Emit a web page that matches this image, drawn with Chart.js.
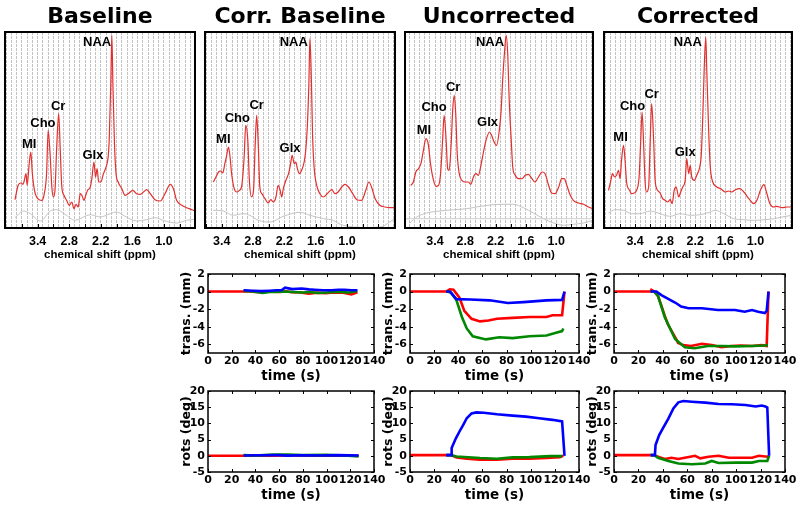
<!DOCTYPE html>
<html><head><meta charset="utf-8">
<script src="https://cdn.jsdelivr.net/npm/chart.js@4.4.1/dist/chart.umd.min.js"></script>
<style>
html,body{margin:0;padding:0;background:#fff;}
body{width:800px;height:510px;position:relative;overflow:hidden;}
canvas{position:absolute;}
</style></head><body>
<canvas id="s1"></canvas><canvas id="s2"></canvas><canvas id="s3"></canvas><canvas id="s4"></canvas>
<canvas id="m1"></canvas><canvas id="m2"></canvas><canvas id="m3"></canvas>
<canvas id="m4"></canvas><canvas id="m5"></canvas><canvas id="m6"></canvas>
<script>
// ================= DATA =================
const panelTitles = ['Baseline', 'Corr. Baseline', 'Uncorrected', 'Corrected'];
const ppmTickLabels = [3.4, 2.8, 2.2, 1.6, 1.0];
const ppmMinorTicks = [3.7, 3.4, 3.1, 2.8, 2.5, 2.2, 1.9, 1.6, 1.3, 1.0, 0.7, 0.4];
const peakNames = ['NAA', 'Cr', 'Cho', 'MI', 'Glx'];

// axis ranges (ppm, left -> right)
const ppmAxis1 = [4.02, 0.41];
const ppmAxis2 = [3.72, 0.08];
const ppmAxis3 = [3.995, 0.27];
const ppmAxis4 = [4.02, 0.27];

// Spectrum 1 : Baseline
const specPpm1 = [3.83,3.77,3.72,3.68,3.66,3.62,3.60,3.56,3.53,3.50,3.46,3.42,3.37,3.32,3.28,3.23,3.20,3.16,3.13,3.10,3.07,3.04,3.00,2.97,2.94,2.90,2.85,2.80,2.75,2.71,2.67,2.63,2.59,2.56,2.52,2.48,2.45,2.40,2.37,2.33,2.30,2.27,2.24,2.20,2.15,2.10,2.06,2.04,2.01,1.99,1.97,1.94,1.91,1.87,1.80,1.74,1.68,1.59,1.52,1.45,1.39,1.33,1.26,1.17,1.07,0.98,0.88,0.82,0.76,0.66,0.57,0.47,0.41];
const specAmp1 = [28.3,42.7,45,43.7,46,54.3,42.7,64.3,76,54.3,37.7,31,28.3,27.7,32.7,54.3,97.7,71,41,31,37.7,77.7,114.3,77.7,41,32.7,27.7,22.7,26,19.3,23.7,21,34.3,32.7,27.7,33.7,37.7,41,49.3,66,51,59.3,46,46,54.3,61,71,87.7,144.3,192.7,144.3,84.3,54.3,46,39.3,32.7,34.3,37.7,34.3,33.7,36,38.3,34.3,28.3,27,34.3,43.7,39.3,27.7,22.7,20.3,18.3,17];
const basePpm1 = [3.83,3.67,3.54,3.35,3.16,3.04,2.88,2.69,2.40,2.21,2.02,1.90,1.74,1.52,1.33,1.17,0.98,0.76,0.57,0.41];
const baseAmp1 = [10.3,17,14.3,7,17,18.3,13.7,7.7,13.3,11,14.3,16,11.7,7,8.3,10.3,7,5,7.7,8.7];
const peakPpm1 = [2.27, 3.01, 3.30, 3.56, 2.35];
const peakAmp1 = [186, 122, 105, 84, 73];

// Spectrum 2 : Corr. Baseline
const specPpm2 = [3.56,3.51,3.46,3.42,3.38,3.34,3.31,3.27,3.24,3.21,3.16,3.11,3.06,3.02,2.97,2.94,2.90,2.87,2.83,2.79,2.76,2.73,2.70,2.67,2.63,2.57,2.51,2.46,2.41,2.36,2.32,2.28,2.25,2.22,2.17,2.12,2.08,2.05,2.01,1.98,1.95,1.91,1.87,1.82,1.79,1.76,1.73,1.71,1.68,1.66,1.63,1.58,1.52,1.45,1.38,1.29,1.23,1.17,1.10,1.04,0.97,0.89,0.81,0.72,0.64,0.58,0.53,0.46,0.37,0.27,0.18,0.08];
const specAmp2 = [46,51,56,57,55,64.3,71,81,71,54.3,39.3,36,37.7,41,71,102.7,87.7,47.7,31,37.7,81,112.7,84.3,41,34.3,29.3,25,28.3,26,31,42.7,37.7,31,39.3,47.7,54.3,64.3,72.7,64.3,66,59.3,54.3,57.7,66,77.7,101,144.3,189.3,144.3,94.3,61,42.7,34.3,31,34.3,38.3,34.3,36,41,43.7,41,34.3,28.3,27.7,37.7,46,41,29.3,22.7,21,20.3,20.3];
const basePpm2 = [3.56,3.37,3.18,2.99,2.86,2.70,2.47,2.22,1.90,1.71,1.45,1.26,1.13,0.88,0.62,0.37,0.08];
const baseAmp2 = [17.7,17,12.7,14.3,12.7,7.7,6,11.7,15.7,12.7,9.3,7.7,3.7,1,0.5,1,9.3];
const peakPpm2 = [2.02, 2.73, 3.10, 3.37, 2.09];
const peakAmp2 = [186, 123, 110, 89, 80];

// Spectrum 3 : Uncorrected
const specPpm3 = [3.88,3.83,3.78,3.73,3.68,3.63,3.58,3.53,3.49,3.43,3.38,3.33,3.29,3.25,3.22,3.18,3.15,3.12,3.08,3.05,3.02,2.99,2.96,2.92,2.87,2.81,2.74,2.69,2.64,2.59,2.54,2.49,2.44,2.39,2.32,2.28,2.23,2.18,2.13,2.09,2.06,2.02,1.99,1.96,1.93,1.89,1.86,1.81,1.75,1.68,1.61,1.55,1.48,1.42,1.35,1.28,1.22,1.15,1.09,1.02,0.95,0.89,0.84,0.79,0.72,0.66,0.56,0.46,0.36,0.27];
const specAmp3 = [42.7,46,56,59.3,64.3,77.7,89.3,82.7,64.3,47.7,41.7,42.7,54.3,87.7,112.7,87.7,59.3,57.7,84.3,117.7,132.7,114.3,74.3,54.3,47.7,46,46,43.7,51,54.3,52.7,62.7,76,87.7,96,92.7,86,82.7,96,117.7,147.7,177.7,192.7,174.3,127.7,87.7,61,52.7,49.3,49.3,52.7,53.7,49.3,46,51,56,54.3,42.7,35,34.3,41,49.3,49.3,42.7,32.7,27.7,25,23.7,21,19.3];
const basePpm3 = [3.90,3.76,3.57,3.30,3.04,2.77,2.51,2.31,2.11,1.85,1.65,1.45,1.25,1.05,0.85,0.66,0.46,0.27];
const baseAmp3 = [5,11,15,17,18.3,19.3,21.7,23,23.7,23.7,20.3,15,9.3,5,2.7,3.7,5,7.7];
const refLevel3 = [9.3];
const peakPpm3 = [2.31, 3.04, 3.42, 3.62, 2.36];
const peakAmp3 = [186, 141, 121, 98, 106];

// Spectrum 4 : Corrected
const specPpm4 = [3.93,3.89,3.85,3.81,3.77,3.73,3.70,3.67,3.63,3.60,3.57,3.51,3.47,3.42,3.37,3.32,3.29,3.26,3.23,3.20,3.17,3.13,3.10,3.07,3.03,3.00,2.95,2.90,2.85,2.80,2.75,2.70,2.66,2.62,2.58,2.53,2.49,2.45,2.40,2.37,2.33,2.30,2.27,2.22,2.17,2.11,2.08,2.05,2.02,1.99,1.97,1.93,1.90,1.85,1.77,1.69,1.60,1.53,1.47,1.40,1.31,1.23,1.13,1.03,0.97,0.90,0.83,0.78,0.71,0.63,0.57,0.47,0.37,0.27];
const specAmp4 = [37.7,46,54.3,51,52.7,57.7,49.3,67.7,82.7,67.7,46,37.7,34.3,35,37.7,51,84.3,116,84.3,46,36,41,84.3,124.3,87.7,47.7,37.7,35,29.3,27.7,26,28.3,24.3,37.7,41,31,36,41,47.7,69.3,54.3,62.7,51,47.7,52.7,61,72.7,111,161,191,157.7,94.3,61,46,41,39.3,36,37,36,38.3,39.3,36,29.3,24.3,27.7,37.7,43.3,36,24.3,21,21.7,20.3,21,21];
const basePpm4 = [3.93,3.80,3.63,3.47,3.30,3.10,2.90,2.70,2.50,2.30,2.10,1.90,1.80,1.63,1.43,1.23,1.03,0.83,0.63,0.47,0.27];
const baseAmp4 = [15,18.3,17.7,14.3,14.3,17,14.3,11.7,14.3,12.7,13.3,16,17.7,14.3,9.3,8.3,7.7,8.3,9.3,11,12.7];
const peakPpm4 = [2.35, 3.07, 3.45, 3.69, 2.40];
const peakAmp4 = [186, 134, 122, 91, 76];

// Motion plots
const timeTicks = [0, 20, 40, 60, 80, 100, 120, 140];
const transTicks = [-6, -4, -2, 0, 2];
const rotsTicks = [-5, 0, 5, 10, 15, 20];
const transLabel = 'trans. (mm)';
const rotsLabel = 'rots (deg)';
const timeLabel = 'time (s)';

// Baseline translations
const transBaseBlueT = [30,38,45,52,58,62,65,71,79,85,90,97,104,110,115,121,126];
const transBaseBlueV = [0.15,0.1,0.05,0.1,0.15,0.15,0.45,0.28,0.35,0.25,0.2,0.15,0.15,0.2,0.2,0.15,0.15];
const transBaseGreenT = [30,38,46,52,57,64,71,80,86,93,100,106,112,119,126];
const transBaseGreenV = [0.08,0,-0.16,-0.05,-0.05,0,-0.05,-0.1,-0.05,-0.16,-0.1,-0.05,-0.05,-0.1,0.08];
const transBaseRedT = [0,30,35,40,46,52,60,66,71,78,85,92,99,106,114,121,126];
const transBaseRedV = [0,0,0,-0.05,-0.08,0,-0.04,0.02,-0.08,-0.1,-0.24,-0.12,-0.2,-0.1,-0.12,-0.32,-0.08];
// Baseline rotations
const rotsBaseBlueT = [30,45,60,67,80,95,110,127];
const rotsBaseBlueV = [0.1,0.15,0.2,0.05,0.15,0.1,0.2,0.1];
const rotsBaseGreenT = [30,40,55,67,80,100,115,127];
const rotsBaseGreenV = [0.2,0.1,0.35,0.4,0.2,0.3,0.1,-0.2];
const rotsBaseRedT = [0,30,50,70,90,110,127];
const rotsBaseRedV = [0,0,0.05,0.1,0,0.1,0];
// Uncorrected translations
const transUncBlueT = [30,33,38.5,50,66,81,94,113,126,128];
const transUncBlueV = [0,0,-0.86,-0.9,-1.0,-1.3,-1.2,-1.0,-0.95,0];
const transUncGreenT = [30,34,38.5,43,47,52,63,74,85,99,113,121,126,127];
const transUncGreenV = [0,-0.1,-1.0,-2.9,-4.2,-5.1,-5.45,-5.2,-5.3,-5.1,-5.0,-4.7,-4.5,-4.2];
const transUncRedT = [0,30,33,36,41,45,51,58,65,72,85,99,113,118,126,128];
const transUncRedV = [0,0,0.26,0.2,-0.7,-2.2,-3.1,-3.4,-3.3,-3.1,-3.0,-2.9,-2.9,-2.7,-2.7,0];
// Uncorrected rotations
const rotsUncBlueT = [30,34,34.5,38,41,44,47,51,55,61,72,85,96,107,118,126,128];
const rotsUncBlueV = [0.2,0.2,2.4,5.4,7.5,9.5,11.6,13.1,13.4,13.3,12.8,12.4,12.1,11.6,11.1,10.6,0];
const rotsUncGreenT = [30,34,38.6,58,72,85,99,116,126];
const rotsUncGreenV = [0.2,0.2,-0.2,-0.7,-0.9,-0.5,-0.4,-0.1,-0.1];
const rotsUncRedT = [0,34,38.6,47,58,72,85,99,113,124,127];
const rotsUncRedV = [0.2,0.2,-0.5,-0.9,-1.2,-1.2,-0.9,-0.9,-0.7,-0.4,0];
// Corrected translations
const transCorBlueT = [30,34.7,38.8,44,50,55,61,72,85,99,107,113,118,123.5,125,126.5];
const transCorBlueV = [0,0,-0.4,-0.8,-1.25,-1.7,-1.9,-1.9,-2.1,-2.1,-2.3,-2.1,-2.3,-2.45,-2.2,0];
const transCorGreenT = [30,33,36,41.5,50,58,66,77,88,99,113,123,126];
const transCorGreenV = [0,0,-0.5,-2.9,-5.4,-6.35,-6.45,-6.2,-6.2,-6.25,-6.2,-6.15,-6.1];
const transCorRedT = [0,30,30.6,33,36,38.8,41.5,44,47,50,52.5,56.6,63,72,80,88,96,104,113,121,125,126.5];
const transCorRedV = [0,0,0.2,0,-0.5,-1.6,-2.75,-3.7,-4.45,-5.2,-5.85,-6.1,-6.2,-5.95,-6.1,-6.35,-6.2,-6.15,-6.2,-6.1,-6.2,0];
// Corrected rotations
const rotsCorBlueT = [30,33.5,34,37,40,44.5,48.6,52.7,56.8,63.7,74.7,85.6,96.6,107.6,116,121,124,125.5,127];
const rotsCorBlueV = [0.2,0.2,3.3,6.4,8.5,11.5,14.6,16.5,16.9,16.7,16.4,16,15.9,15.7,15.2,15.5,15.2,14.9,0];
const rotsCorGreenT = [30,33,36,44.5,52.7,63.7,74.7,80,85.6,99.7,113,118.6,125.5,127];
const rotsCorGreenV = [0.2,0.2,-0.6,-1.6,-2.4,-2.6,-2.4,-1.6,-2.2,-2.1,-2.1,-1.6,-1.6,0];
const rotsCorRedT = [0,33,36,41.7,47,52.7,58,66.4,70.6,77.4,85.6,94,105,113,118.6,125.5,127];
const rotsCorRedV = [0.2,0.2,-0.3,-1.0,-0.6,-1.0,-0.6,0,-0.8,-0.3,0,-0.6,-0.6,-0.6,0,-0.3,0];

// ================= RENDERING =================
const SP_FONT = "'Liberation Sans', Arial, sans-serif";
const AX_FONT = "'DejaVu Sans', Verdana, sans-serif";
const BLUE = '#0000ff', GREEN = '#008800', RED = '#ff0000';

function pts(xs, ys) { return xs.map((x, i) => ({x: x, y: ys[i]})); }

function decor(cfg) {
  return {
    id: 'decor',
    afterDatasetsDraw(chart) {
      const ctx = chart.ctx, ca = chart.chartArea;
      ctx.save();
      ctx.strokeStyle = '#000';
      ctx.lineWidth = 1;
      ctx.beginPath();
      (cfg.xTicks || []).forEach(v => {
        if (v < chart.scales.x.min || v > chart.scales.x.max) return;
        const px = Math.round(chart.scales.x.getPixelForValue(v)) + 0.5;
        ctx.moveTo(px, ca.bottom); ctx.lineTo(px, ca.bottom - cfg.len);
        if (cfg.mirror) { ctx.moveTo(px, ca.top); ctx.lineTo(px, ca.top + cfg.len); }
      });
      (cfg.yTicks || []).forEach(v => {
        const py = Math.round(chart.scales.y.getPixelForValue(v)) + 0.5;
        ctx.moveTo(ca.left, py); ctx.lineTo(ca.left + cfg.len, py);
        if (cfg.mirror) { ctx.moveTo(ca.right, py); ctx.lineTo(ca.right - cfg.len, py); }
      });
      ctx.stroke();
      ctx.lineWidth = cfg.frame;
      ctx.strokeRect(ca.left, ca.top, ca.right - ca.left, ca.bottom - ca.top);
      ctx.restore();
    },
    afterDraw(chart) {
      const ctx = chart.ctx, ca = chart.chartArea;
      ctx.save();
      ctx.fillStyle = '#000';
      ctx.textAlign = 'center';
      ctx.textBaseline = 'middle';
      (cfg.texts || []).forEach(t => {
        ctx.font = t.font;
        let x, y;
        if (t.data) { x = chart.scales.x.getPixelForValue(t.x); y = chart.scales.y.getPixelForValue(t.y); }
        else { x = (ca.left + ca.right) / 2 + (t.dx || 0); y = ca.top + t.dy; }
        ctx.fillText(t.text, x, y);
      });
      ctx.restore();
    }
  };
}

function spectrum(id, geom, axis, sp, sa, bp, ba, title, pkP, pkA, refLevel) {
  const cv = document.getElementById(id);
  cv.width = geom.w; cv.height = geom.h;
  cv.style.left = geom.left + 'px'; cv.style.top = geom.top + 'px';
  const datasets = [];
  if (refLevel) datasets.push({data: pts(axis, [refLevel[0], refLevel[0]]), borderColor: '#cfcfcf', borderWidth: 1, pointRadius: 0});
  datasets.push({data: pts(bp, ba), borderColor: '#c4c4c4', borderWidth: 1, pointRadius: 0, cubicInterpolationMode: 'monotone'});
  datasets.push({data: pts(sp, sa), borderColor: '#e3302e', borderWidth: 1.2, pointRadius: 0, cubicInterpolationMode: 'monotone'});
  const texts = [{text: title, dy: -15, font: "bold 22px " + AX_FONT}];
  peakNames.forEach((n, i) => texts.push({text: n, data: true, x: pkP[i], y: pkA[i], font: "bold 13px " + SP_FONT}));
  new Chart(cv, {
    type: 'line',
    data: {datasets: datasets},
    options: {
      responsive: false, animation: false, events: [],
      layout: {padding: {left: geom.pl, right: geom.pr, top: 32, bottom: 0}},
      plugins: {legend: {display: false}, tooltip: {enabled: false}},
      scales: {
        x: {
          type: 'linear', reverse: true, min: axis[1], max: axis[0],
          afterBuildTicks(s) {
            const arr = [];
            for (let k = Math.ceil(s.min * 10 - 1e-9); k <= Math.floor(s.max * 10 + 1e-9); k++) arr.push({value: k / 10});
            s.ticks = arr;
          },
          afterFit(s) { s.height = geom.h - 228; s.paddingLeft = 0; s.paddingRight = 0; },
          ticks: {
            autoSkip: false, maxRotation: 0, minRotation: 0, padding: 6, color: '#000',
            font: {family: SP_FONT, size: 12.5, weight: 'bold'},
            callback(v) { const m = ppmTickLabels.find(t => Math.abs(t - v) < 1e-6); return m !== undefined ? m.toFixed(1) : ''; }
          },
          grid: {color: 'rgba(185,185,185,0.85)', lineWidth: 1, drawTicks: false},
          border: {display: false, dash: [3, 1]},
          title: {display: true, text: 'chemical shift (ppm)', color: '#000', font: {family: SP_FONT, size: 11.5, weight: 'bold'}, padding: {top: 0, bottom: 0}}
        },
        y: {display: false, min: 0, max: 196}
      }
    },
    plugins: [decor({xTicks: ppmMinorTicks, len: 4, frame: 2, texts: texts})]
  });
}

function motion(id, box, series, yTicks, yRange, yTitle) {
  const cv = document.getElementById(id);
  const W = box.R - box.L + 48 + 12, H = box.B - box.T + 10 + 36;
  cv.width = W; cv.height = H;
  cv.style.left = (box.L - 48) + 'px'; cv.style.top = (box.T - 10) + 'px';
  new Chart(cv, {
    type: 'line',
    data: {datasets: series.map(s => ({data: pts(s[0], s[1]), borderColor: s[2], borderWidth: 2.6, pointRadius: 0, tension: 0}))},
    options: {
      responsive: false, animation: false, events: [],
      layout: {padding: {left: 0, right: 12, top: 10, bottom: 0}},
      plugins: {legend: {display: false}, tooltip: {enabled: false}},
      scales: {
        x: {
          type: 'linear', min: 0, max: 140,
          afterBuildTicks(s) { s.ticks = timeTicks.map(v => ({value: v})); },
          afterFit(s) { s.height = 36; s.paddingLeft = 0; s.paddingRight = 0; },
          ticks: {autoSkip: false, maxRotation: 0, minRotation: 0, padding: 2, color: '#000', font: {family: AX_FONT, size: 11, weight: 'bold'}},
          grid: {display: false, drawTicks: false},
          border: {display: false},
          title: {display: true, text: timeLabel, color: '#000', font: {family: AX_FONT, size: 13.5, weight: 'bold'}, padding: {top: 0, bottom: 4}}
        },
        y: {
          type: 'linear', min: yRange[0], max: yRange[1],
          afterBuildTicks(s) { s.ticks = yTicks.map(v => ({value: v})); },
          afterFit(s) { s.width = 48; s.paddingTop = 0; s.paddingBottom = 0; },
          ticks: {autoSkip: false, padding: 3, color: '#000', font: {family: AX_FONT, size: 11, weight: 'bold'}},
          grid: {display: false, drawTicks: false},
          border: {display: false},
          title: {display: true, text: yTitle, color: '#000', font: {family: AX_FONT, size: 12.5, weight: 'bold'}, padding: {top: 19.5, bottom: 0}}
        }
      }
    },
    plugins: [decor({xTicks: timeTicks, yTicks: yTicks, len: 3, mirror: true, frame: 1.5})]
  });
}

spectrum('s1', {left: 0, top: 0, w: 200, h: 262, pl: 5, pr: 5}, ppmAxis1, specPpm1, specAmp1, basePpm1, baseAmp1, panelTitles[0], peakPpm1, peakAmp1);
spectrum('s2', {left: 200, top: 0, w: 200, h: 262, pl: 5, pr: 5}, ppmAxis2, specPpm2, specAmp2, basePpm2, baseAmp2, panelTitles[1], peakPpm2, peakAmp2);
spectrum('s3', {left: 400, top: 0, w: 200, h: 262, pl: 5, pr: 7}, ppmAxis3, specPpm3, specAmp3, basePpm3, baseAmp3, panelTitles[2], peakPpm3, peakAmp3, refLevel3);
spectrum('s4', {left: 600, top: 0, w: 200, h: 262, pl: 4, pr: 8}, ppmAxis4, specPpm4, specAmp4, basePpm4, baseAmp4, panelTitles[3], peakPpm4, peakAmp4);

const transRange = [-7, 2], rotsRange = [-5, 20];
const col1 = {L: 208, R: 374}, col2 = {L: 410, R: 579}, col3 = {L: 614, R: 785};
const rowT = {T: 274, B: 353}, rowR = {T: 391, B: 472};

motion('m1', Object.assign({}, col1, rowT), [[transBaseBlueT, transBaseBlueV, BLUE], [transBaseGreenT, transBaseGreenV, GREEN], [transBaseRedT, transBaseRedV, RED]], transTicks, transRange, transLabel);
motion('m2', Object.assign({}, col2, rowT), [[transUncBlueT, transUncBlueV, BLUE], [transUncGreenT, transUncGreenV, GREEN], [transUncRedT, transUncRedV, RED]], transTicks, transRange, transLabel);
motion('m3', Object.assign({}, col3, rowT), [[transCorBlueT, transCorBlueV, BLUE], [transCorGreenT, transCorGreenV, GREEN], [transCorRedT, transCorRedV, RED]], transTicks, transRange, transLabel);
motion('m4', Object.assign({}, col1, rowR), [[rotsBaseBlueT, rotsBaseBlueV, BLUE], [rotsBaseGreenT, rotsBaseGreenV, GREEN], [rotsBaseRedT, rotsBaseRedV, RED]], rotsTicks, rotsRange, rotsLabel);
motion('m5', Object.assign({}, col2, rowR), [[rotsUncBlueT, rotsUncBlueV, BLUE], [rotsUncGreenT, rotsUncGreenV, GREEN], [rotsUncRedT, rotsUncRedV, RED]], rotsTicks, rotsRange, rotsLabel);
motion('m6', Object.assign({}, col3, rowR), [[rotsCorBlueT, rotsCorBlueV, BLUE], [rotsCorGreenT, rotsCorGreenV, GREEN], [rotsCorRedT, rotsCorRedV, RED]], rotsTicks, rotsRange, rotsLabel);
</script>
</body></html>
